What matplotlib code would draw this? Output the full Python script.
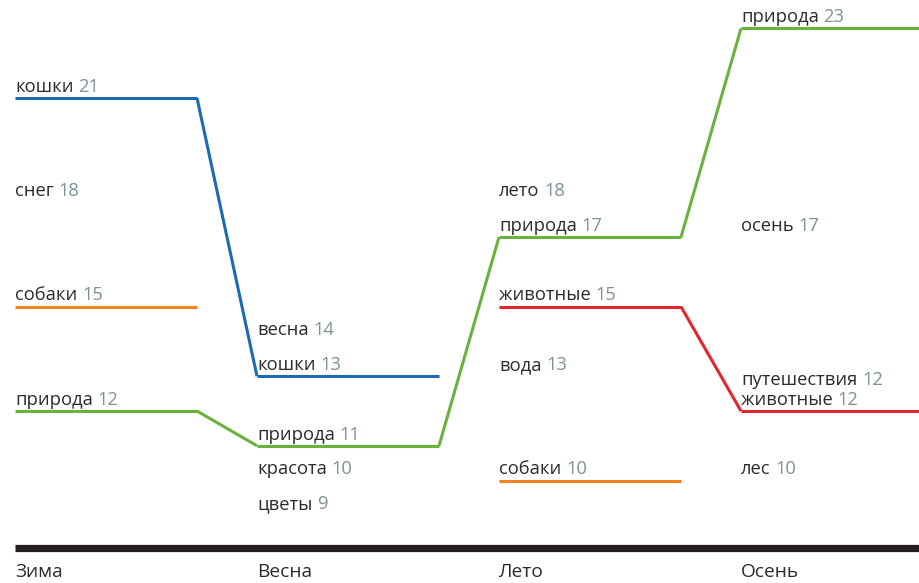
import matplotlib
matplotlib.use("Agg")
import matplotlib.pyplot as plt

plt.rcParams['font.family'] = ['Open Sans', 'DejaVu Sans']

# data: one list of tags / values per season
seasons = ["Зима", "Весна", "Лето", "Осень"]
tags = [
    ["кошки", "снег", "собаки", "природа"],
    ["весна", "кошки", "природа", "красота", "цветы"],
    ["лето", "природа", "животные", "вода", "собаки"],
    ["природа", "осень", "животные", "путешествия", "лес"],
]
values = [
    [21, 18, 15, 12],
    [14, 13, 11, 10, 9],
    [18, 17, 15, 13, 10],
    [23, 17, 12, 12, 10],
]
tag_colors = {
    "кошки": "#1b6ab3",
    "собаки": "#f5821f",
    "природа": "#6ab23e",
    "животные": "#e3262b",
}

name_color = "#2b2b2b"
num_color = "#7d9296"

fig = plt.figure(figsize=(9.19, 5.83), dpi=100)
ax = fig.add_axes([0, 0, 1, 1])
ax.set_xlim(0, 919)
ax.set_ylim(7.055, 23.818)
ax.axis("off")

col_x0 = 15      # left edge of first column (px)
col_step = 242   # distance between columns
seg_w = 182      # width of the horizontal segment

# lines for coloured tags
for tag, c in tag_colors.items():
    prev = None
    for i in range(len(seasons)):
        if tag in tags[i]:
            v = values[i][tags[i].index(tag)]
            x0 = col_x0 + i * col_step
            if prev is not None and prev[0] == i - 1:
                ax.plot([prev[1], x0], [prev[2], v], color=c, lw=2.2,
                        solid_capstyle="butt", zorder=2)
            ax.plot([x0, x0 + seg_w], [v, v], color=c, lw=2.2,
                    solid_capstyle="butt", zorder=2)
            prev = (i, x0 + seg_w, v)
        else:
            prev = None

# labels, pushed up when two tags share a value
fs = 13.2
for i in range(len(seasons)):
    x0 = col_x0 + i * col_step
    order = sorted(range(len(tags[i])), key=lambda k: (values[i][k], tags[i][k] not in tag_colors))
    last_off = None
    last_v = None
    for k in order:
        v = values[i][k]
        off = 4.5
        if last_v is not None and v == last_v:
            off = last_off + 14.5
        last_v, last_off = v, off
        t = ax.annotate(tags[i][k], xy=(x0, v), xytext=(0, off), textcoords="offset points",
                        ha="left", va="baseline", fontsize=fs, color=name_color, zorder=3)
        ax.annotate(str(v), xy=(1, 0), xycoords=t, xytext=(3.4, 0), textcoords="offset points",
                    ha="left", va="bottom", fontsize=fs, color=num_color, zorder=3)

# bottom bar and season names
ax.plot([col_x0, 919], [0.060, 0.060], transform=ax.get_xaxis_transform(),
        color="#231f20", lw=5.2, solid_capstyle="butt")
for i, s in enumerate(seasons):
    ax.text(col_x0 + i * col_step, 0.019, s, transform=ax.get_xaxis_transform(),
            ha="left", va="center", fontsize=13.8, color=name_color)

fig.savefig("out.png", dpi=100)
